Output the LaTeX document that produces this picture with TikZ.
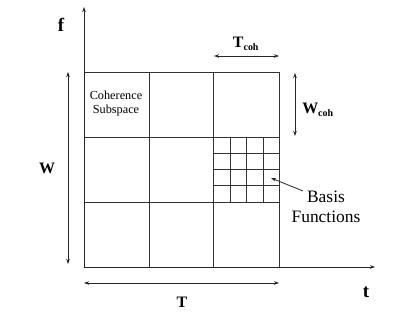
\documentclass[tikz,border=0pt]{standalone}
\usepackage{fontspec}
\setmainfont{Liberation Serif}
\usetikzlibrary{arrows.meta}
\begin{document}
\begin{tikzpicture}[x=1bp,y=-1bp,
  gridline/.style={line width=0.9bp,draw=black!80},
  dimarrow/.style={line width=0.8bp,draw=black!85,{Stealth[length=5bp,width=3.5bp]}-{Stealth[length=5bp,width=3.5bp]}},
  axis/.style={line width=0.8bp,draw=black!85,-{Stealth[length=5bp,width=3.5bp]}},
  biglabel/.style={font=\bfseries\fontsize{19}{20}\selectfont,inner sep=0pt},
  dimlabel/.style={font=\bfseries\fontsize{16}{18}\selectfont,inner sep=0pt},
  smalltext/.style={font=\fontsize{12.3}{14}\selectfont,align=center,inner sep=0pt},
  basistext/.style={font=\fontsize{17.5}{19.5}\selectfont,align=center,inner sep=0pt}]
\useasboundingbox (0,0) rectangle (415,312);
% coordinates
\coordinate (O) at (84,267);
\coordinate (ftop) at (84,7);
\coordinate (tend) at (375,267);
% grid
\draw[gridline] (84,72) rectangle (279,267);
\draw[gridline] (149,72) -- (149,267);
\draw[gridline] (213.5,72) -- (213.5,267);
\draw[gridline] (84,137) -- (279,137);
\draw[gridline] (84,202) -- (279,202);
% fine grid
\foreach \x in {230,246.5,263} \draw[gridline] (\x,137) -- (\x,202);
\foreach \y in {153.25,169.5,185.75} \draw[gridline] (213.5,\y) -- (279,\y);
% axes
\draw[axis] (O) -- (ftop);
\draw[axis] (O) -- (tend);
\node[biglabel] (f) at (61,25) {f};
\node[biglabel] (t) at (366,292) {t};
% W arrow
\coordinate (Wa) at (68,72);
\coordinate (Wb) at (68,264);
\draw[dimarrow] (Wa) -- (Wb);
\node[dimlabel] (W) at (47,168) {W};
% T arrow
\coordinate (Ta) at (84,283);
\coordinate (Tb) at (279,283);
\draw[dimarrow] (Ta) -- (Tb);
\node[dimlabel] (T) at (182,302) {T};
% Tcoh
\coordinate (Tca) at (214,56);
\coordinate (Tcb) at (279,56);
\draw[dimarrow] (Tca) -- (Tcb);
\node[dimlabel] (Tcoh) at (246,44) {T\textsubscript{\fontsize{10}{10}\selectfont coh}};
% Wcoh
\coordinate (Wca) at (295,73);
\coordinate (Wcb) at (295,136);
\draw[dimarrow] (Wca) -- (Wcb);
\node[dimlabel] (Wcoh) at (318,110) {W\textsubscript{\fontsize{10}{10}\selectfont coh}};
% texts
\node[smalltext] (coh) at (116,104) {Coherence\\Subspace};
\node[basistext] (basis) at (326,207) {Basis\\Functions};
\coordinate (btip) at (271,178);
\draw[axis] (303,191) -- (btip);
\end{tikzpicture}
\end{document}
